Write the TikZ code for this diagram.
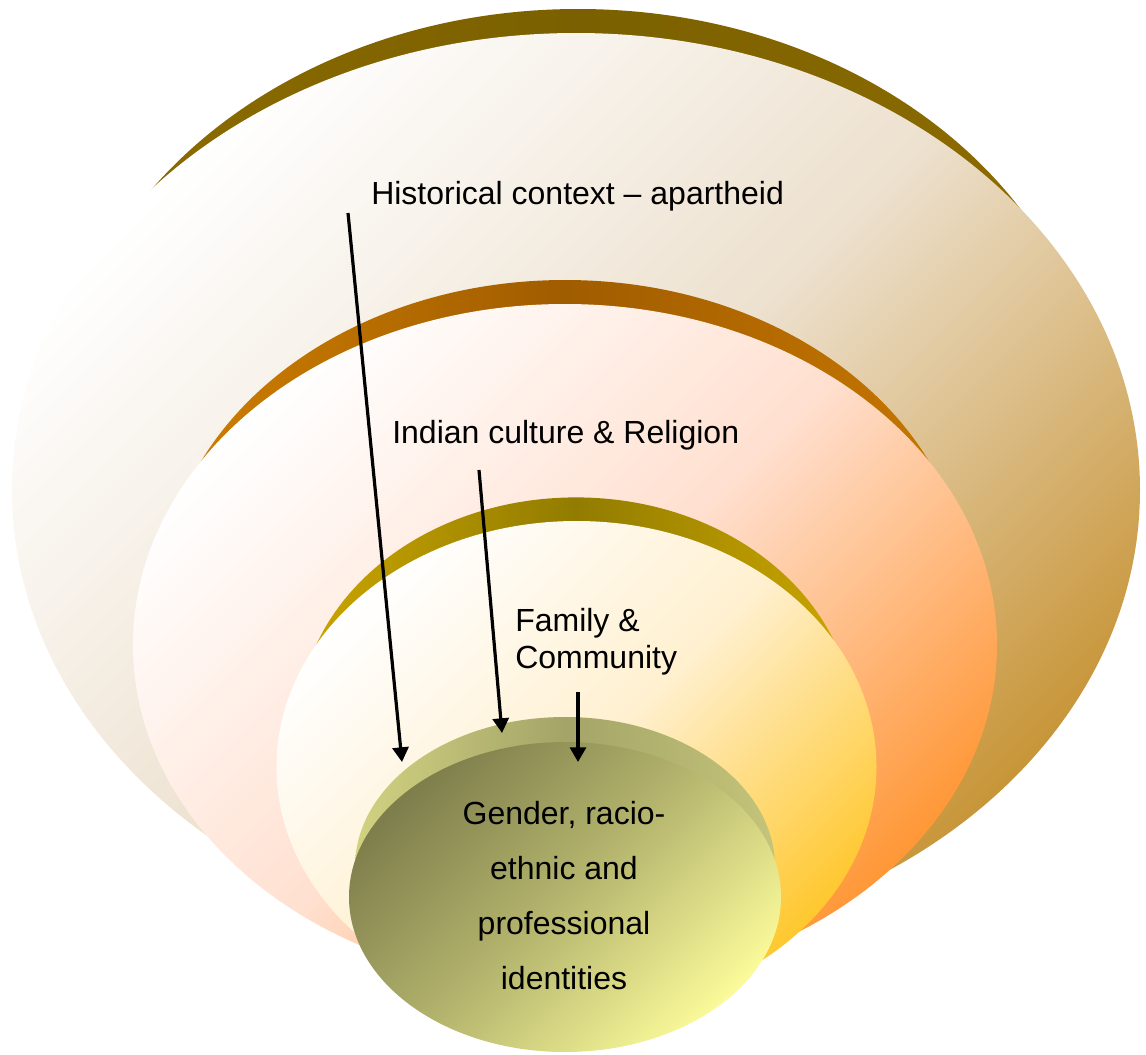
\documentclass[tikz,border=0pt]{standalone}
\usepackage{fontspec}
\setmainfont{Liberation Sans}
\usetikzlibrary{arrows.meta}
\definecolor{rimAe}{HTML}{8F6D00}
\definecolor{rimAc}{HTML}{7A6000}
\definecolor{rimBl}{HTML}{D08000}
\definecolor{rimBc}{HTML}{A05C00}
\definecolor{rimBr}{HTML}{C87800}
\definecolor{rimCe}{HTML}{CCA600}
\definecolor{rimCc}{HTML}{927C00}
\definecolor{rimDl}{HTML}{D2D282}
\definecolor{rimDc}{HTML}{A4A468}
\definecolor{rimDr}{HTML}{C4C47A}
\definecolor{faceAt}{HTML}{FFFFFF}
\definecolor{faceAm}{HTML}{EDE1CF}
\definecolor{faceAb}{HTML}{C8963A}
\definecolor{faceBt}{HTML}{FFFFFF}
\definecolor{faceBm}{HTML}{FFE0D0}
\definecolor{faceBb}{HTML}{FF9838}
\definecolor{faceCt}{HTML}{FFFFFF}
\definecolor{faceCm}{HTML}{FFF0D0}
\definecolor{faceCb}{HTML}{FFC830}
\definecolor{faceDt}{HTML}{7E7E4C}
\definecolor{faceDm}{HTML}{B5B56E}
\definecolor{faceDb}{HTML}{FAFA9A}
\begin{document}
\begin{tikzpicture}[x=0.75pt,y=-0.75pt,
  lbl/.style={inner sep=0pt, font=\fontsize{24}{28}\selectfont, text=black},
  arr/.style={line width=2.4pt, draw=black, -{Triangle[width=12pt,length=11pt]}},
  rimA/.style={left color=rimAe, right color=rimAe, middle color=rimAc},
  rimB/.style={left color=rimBl, right color=rimBr, middle color=rimBc},
  rimC/.style={left color=rimCe, right color=rimCe, middle color=rimCc},
  rimD/.style={left color=rimDl, right color=rimDr, middle color=rimDc},
  faceA/.style={top color=faceAt, bottom color=faceAb, middle color=faceAm, shading angle=45},
  faceB/.style={top color=faceBt, bottom color=faceBb, middle color=faceBm, shading angle=45},
  faceC/.style={top color=faceCt, bottom color=faceCb, middle color=faceCm, shading angle=45},
  faceD/.style={top color=faceDt, bottom color=faceDb, middle color=faceDm, shading angle=45},
]
\path[use as bounding box] (0,0) rectangle (1146,1054);

% outer disc: historical context
\shade[rimA] (578,433) ellipse [x radius=521, y radius=424];
\shade[faceA] (576,490) ellipse [x radius=564, y radius=457];

% second disc: culture & religion
\shade[rimB] (565,598) ellipse [x radius=403, y radius=318];
\shade[faceB] (565,645) ellipse [x radius=432, y radius=341];

% third disc: family & community
\shade[rimC] (576,725) ellipse [x radius=277.5, y radius=227.6];
\shade[faceC] (576.5,767) ellipse [x radius=300, y radius=246];

% inner disc: identities
\shade[rimD] (565,867) ellipse [x radius=210, y radius=150];
\shade[faceD] (565,897) ellipse [x radius=216, y radius=155];

% labels
\node[lbl, anchor=base west] (hist) at (371,204) {Historical context – apartheid};
\node[lbl, anchor=base west] (cult) at (392,443) {Indian culture \& Religion};
\node[lbl, anchor=north west, align=left, font=\fontsize{24}{27.75}\selectfont] (fam) at (515,608) {Family \&\\Community};
\node[lbl, anchor=center, align=center, font=\fontsize{24}{41.25}\selectfont] (ident) at (564,896) {Gender, racio-\\ethnic and\\professional\\identities};

% arrows
\coordinate (a1s) at (348,213);
\coordinate (a1e) at (402,762);
\coordinate (a2s) at (479,470);
\coordinate (a2e) at (502,733);
\coordinate (a3s) at (578,692);
\coordinate (a3e) at (578,762);
\draw[arr] (a1s) -- (a1e);
\draw[arr] (a2s) -- (a2e);
\draw[arr] (a3s) -- (a3e);
\end{tikzpicture}
\end{document}
